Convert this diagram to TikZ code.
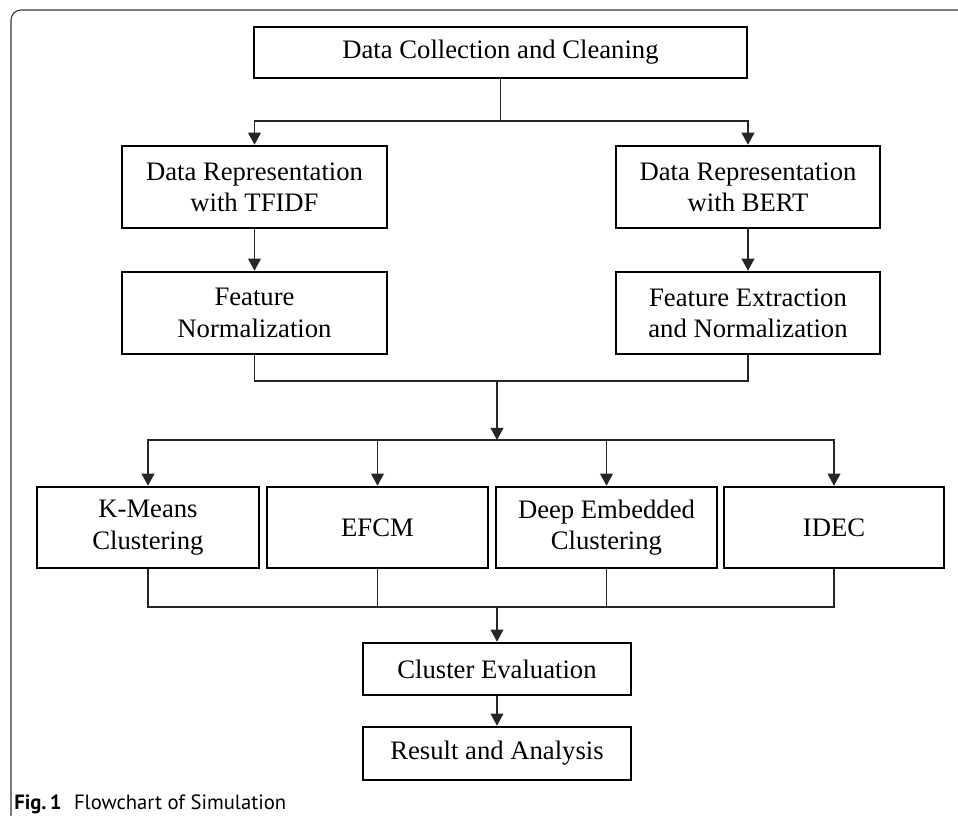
\documentclass[tikz,border=0pt]{standalone}
\usepackage{fontspec}
\setmainfont{Liberation Serif}
\newfontfamily\capfont{PT Sans}
\usetikzlibrary{arrows.meta}
\begin{document}
\begin{tikzpicture}[x=0.75pt,y=-0.75pt,
  box/.style={draw=black,line width=1.9pt,rectangle,inner sep=0pt,align=center,
    font=\fontsize{20}{23.5}\selectfont},
  conn/.style={line width=1.1pt,draw=black!85},
  arr/.style={conn,-{Triangle[length=9pt,width=9.5pt]}}]
\useasboundingbox (0,0) rectangle (958,816);
\fill[white] (0,0) rectangle (958,816);
% frame
\draw[line width=0.8pt,draw=black!80,rounded corners=7.5pt] (11,820) -- (11,10) -- (962,10);

% boxes
\node[box,minimum width=369.75pt,minimum height=38.25pt] (top) at (500.5,52.5) {Data Collection and Cleaning};
\node[box,minimum width=198.75pt,minimum height=61.5pt] (tfidf) at (254.5,187) {Data Representation\\with TFIDF};
\node[box,minimum width=198.75pt,minimum height=61.5pt] (fnorm) at (254.5,313) {Feature\\Normalization};
\node[box,minimum width=198pt,minimum height=61.5pt] (bert) at (748,187) {Data Representation\\with BERT};
\node[box,minimum width=198pt,minimum height=61.5pt] (fext) at (748,313) {Feature Extraction\\and Normalization};
\node[box,minimum width=166.5pt,minimum height=60.75pt] (kmeans) at (148,527.5) {K-Means\\Clustering};
\node[box,minimum width=165.75pt,minimum height=60.75pt] (efcm) at (377.5,527.5) {EFCM};
\node[box,minimum width=165.75pt,minimum height=60.75pt] (dec) at (606.5,527.5) {Deep Embedded\\Clustering};
\node[box,minimum width=165pt,minimum height=60.75pt] (idec) at (834,527.5) {IDEC};
\node[box,minimum width=201pt,minimum height=39pt] (eval) at (497,669) {Cluster Evaluation};
\node[box,minimum width=201pt,minimum height=39.75pt] (result) at (497,753.5) {Result and Analysis};

% junctions
\coordinate (split1) at (500.5,121);
\coordinate (merge1) at (497,381);
\coordinate (split2) at (497,440);
\coordinate (merge2) at (497,607);

% connectors
\draw[conn] (top.south) -- (split1);
\draw[arr] (split1) -| (tfidf.north);
\draw[arr] (split1) -| (bert.north);
\draw[arr] (tfidf) -- (fnorm);
\draw[arr] (bert) -- (fext);
\draw[conn] (fnorm.south) |- (merge1);
\draw[conn] (fext.south) |- (merge1);
\draw[arr] (merge1) -- (split2);
\draw[arr] (split2) -| (kmeans.north);
\draw[arr] (split2) -| (efcm.north);
\draw[arr] (split2) -| (dec.north);
\draw[arr] (split2) -| (idec.north);
\draw[conn] (kmeans.south) |- (merge2);
\draw[conn] (idec.south) |- (merge2);
\draw[conn] (efcm.south) -- (efcm.south |- merge2);
\draw[conn] (dec.south) -- (dec.south |- merge2);
\draw[arr] (merge2) -- (eval.north);
\draw[arr] (eval) -- (result);

% caption
\node[anchor=base west,inner sep=0pt,font=\capfont\fontsize{15.5}{18}\selectfont] (cap) at (14,810)
  {\textbf{Fig.\,1}\hspace{0.6em}Flowchart of Simulation};
\end{tikzpicture}
\end{document}
